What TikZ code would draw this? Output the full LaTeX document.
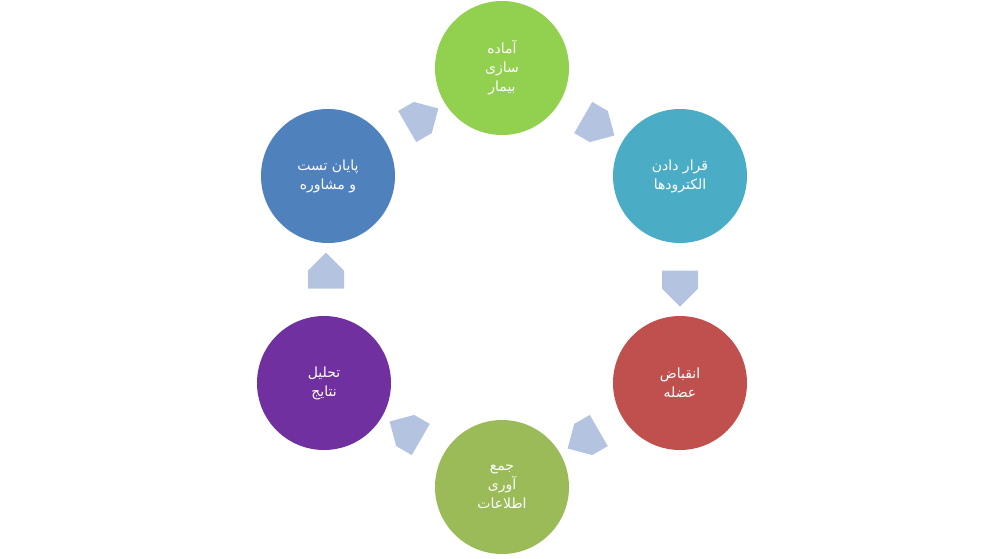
\documentclass[tikz,border=0pt]{standalone}
\usepackage{fontspec}
\newfontfamily\arabicfont[Script=Arabic]{DejaVu Sans}
\TeXXeTstate=1
\usetikzlibrary{shapes.arrows,calc}
\definecolor{cgreen}{HTML}{92D050}
\definecolor{cteal}{HTML}{4BACC6}
\definecolor{cred}{HTML}{C0504D}
\definecolor{colive}{HTML}{9BBB59}
\definecolor{cpurple}{HTML}{7030A0}
\definecolor{cblue}{HTML}{4F81BD}
\definecolor{carrow}{HTML}{B4C4E0}
\newcommand{\rl}[1]{\beginR #1\endR}
\tikzset{
  stage/.style={circle, fill=#1, minimum size=134pt, inner sep=0pt, text=white,
    align=center, font=\arabicfont\fontsize{14}{19}\selectfont},
  flow/.style={single arrow, fill=carrow, minimum height=36pt, minimum width=36pt,
    single arrow head extend=0pt, inner sep=0pt, rotate=#1}
}
\begin{document}
\begin{tikzpicture}[x=1pt,y=-1pt]
    \useasboundingbox (0,0) rectangle (1002,558);

    % Mراحل
    \node[stage=cgreen]  (prep)  at (502,68)  {\rl{آماده}\\\rl{سازی}\\\rl{بیمار}};
    \node[stage=cteal]   (elec)  at (680,176) {\rl{قرار دادن}\\\rl{الکترودها}};
    \node[stage=cred]    (musc)  at (680,383) {\rl{انقباض}\\\rl{عضله}};
    \node[stage=colive]  (data)  at (502,487) {\rl{جمع}\\\rl{آوری}\\\rl{اطلاعات}};
    \node[stage=cpurple] (anal)  at (324,383) {\rl{تحلیل}\\\rl{نتایج}};
    \node[stage=cblue]   (end)   at (328,176) {\rl{پایان تست}\\\rl{و مشاوره}};

    % Arrows
    \node[flow=30]   (f1) at ($(end)!0.5!(prep)$)  {};
    \node[flow=-30]  (f2) at ($(prep)!0.5!(elec)$) {};
    \node[flow=-90]  (f3) at ($(elec)!0.5!(musc)$) {};
    \node[flow=-150] (f4) at ($(musc)!0.5!(data)$) {};
    \node[flow=150]  (f5) at ($(data)!0.5!(anal)$) {};
    \node[flow=90]   (f6) at ($(anal)!0.5!(end)$)  {};
\end{tikzpicture}
\end{document}
